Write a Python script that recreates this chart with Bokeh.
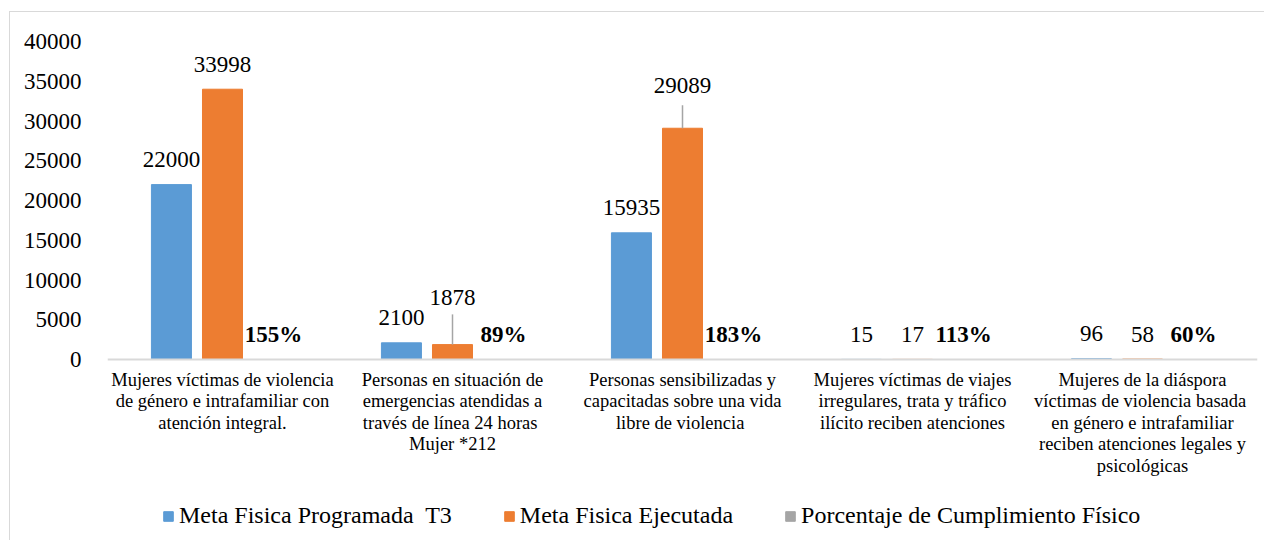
from bokeh.plotting import figure
from bokeh.models import ColumnDataSource, FactorRange, Range1d, Legend, LegendItem, Span
from bokeh.transform import dodge
from bokeh.core.properties import value
from bokeh.embed import file_html
from bokeh.resources import INLINE

categorias = [
    "Mujeres víctimas de violencia\nde género e intrafamiliar con\natención integral.",
    "Personas en situación de\nemergencias atendidas a\ntravés de línea  24 horas\nMujer *212",
    "Personas sensibilizadas y\ncapacitadas sobre una vida\nlibre de  violencia",
    "Mujeres víctimas de viajes\nirregulares, trata y tráfico\nilícito reciben atenciones",
    "Mujeres de la diáspora\nvíctimas de violencia  basada\nen género e intrafamiliar\nreciben atenciones legales y\npsicológicas",
]
programada = [22000, 2100, 15935, 15, 96]
ejecutada = [33998, 1878, 29089, 17, 58]
porcentaje = [1.55, 0.89, 1.83, 1.13, 0.60]
porcentaje_txt = ["155%", "89%", "183%", "113%", "60%"]
y_ticks = [0, 5000, 10000, 15000, 20000, 25000, 30000, 35000, 40000]

series_names = ["Meta Fisica Programada  T3", "Meta Fisica Ejecutada", "Porcentaje de Cumplimiento Físico"]
colors = ["#5B9BD5", "#ED7D31", "#A5A5A5"]
FONT = "Liberation Serif"

# label offsets (screen px) for executed-value labels; two are pulled up with leader lines
ejec_label_offset = [-25, -47, -43, -25, -25]
leader_idx = [1, 2]
leader_len = [3800, 2900]

src = ColumnDataSource(dict(
    cat=categorias,
    prog=programada,
    ejec=ejecutada,
    pct=porcentaje,
    base=[0] * len(categorias),
    prog_txt=[str(v) for v in programada],
    ejec_txt=[str(v) for v in ejecutada],
    pct_txt=porcentaje_txt,
    ejec_off=ejec_label_offset,
))

# the frame extends below zero to hold the category labels and the legend
p = figure(
    width=1255, height=529,
    x_range=FactorRange(*categorias, range_padding=0),
    y_range=Range1d(-22890, 40000),
    output_backend="svg", toolbar_location=None,
    min_border_left=97, min_border_right=8, min_border_top=29, min_border_bottom=0,
)
p.margin = (11, 0, 0, 9)
p.styles = {"border-top": "1px solid #D9D9D9", "border-left": "1px solid #D9D9D9"}
p.outline_line_color = None
p.background_fill_color = "white"
p.border_fill_color = "white"
p.xgrid.grid_line_color = None
p.ygrid.grid_line_color = None
p.xaxis.visible = False

p.add_layout(Span(location=0, dimension="width", line_color="#D9D9D9", line_width=2))

step = 0.222
bw = 0.174
r1 = p.vbar(x=dodge("cat", -step, range=p.x_range), top="prog", width=bw, source=src, color=colors[0])
r2 = p.vbar(x=dodge("cat", 0, range=p.x_range), top="ejec", width=bw, source=src, color=colors[1])
r3 = p.vbar(x=dodge("cat", step, range=p.x_range), top="pct", width=bw, source=src, color=colors[2])

# leader lines
lsrc = ColumnDataSource(dict(
    x=[categorias[i] for i in leader_idx],
    y0=[ejecutada[i] for i in leader_idx],
    y1=[ejecutada[i] + l for i, l in zip(leader_idx, leader_len)],
))
p.segment(x0="x", y0="y0", x1="x", y1="y1", source=lsrc, line_color="#A5A5A5", line_width=1.5)

common = dict(source=src, text_align="center", text_baseline="middle",
              text_font=value(FONT), text_font_size="23px", text_color="black")
p.text(x=dodge("cat", -step, range=p.x_range), y="prog", text="prog_txt", y_offset=-25, **common)
p.text(x=dodge("cat", 0, range=p.x_range), y="ejec", text="ejec_txt", y_offset="ejec_off", **common)
p.text(x=dodge("cat", step, range=p.x_range), y="pct", text="pct_txt", y_offset=-25,
       text_font_style="bold", **common)

# category labels
p.text(x="cat", y="base", text="cat", source=src, y_offset=10, text_align="center",
       text_baseline="top", text_font=value(FONT), text_font_size="18.5px",
       text_color="black", text_line_height=1.075)

# y axis
p.yaxis.ticker = y_ticks
p.yaxis.axis_line_color = None
p.yaxis.major_tick_line_color = None
p.yaxis.minor_tick_line_color = None
p.yaxis.major_label_text_font = FONT
p.yaxis.major_label_text_font_size = "23px"
p.yaxis.major_label_text_color = "black"
p.yaxis.major_label_standoff = 20

legend = Legend(items=[
    LegendItem(label=series_names[0], renderers=[r1]),
    LegendItem(label=series_names[1], renderers=[r2]),
    LegendItem(label=series_names[2], renderers=[r3]),
], orientation="horizontal", location=(55, 12))
legend.label_text_font = FONT
legend.label_text_font_size = "24px"
legend.label_text_color = "black"
legend.glyph_width = 12
legend.glyph_height = 12
legend.label_standoff = 5
legend.spacing = 51
legend.border_line_color = None
legend.background_fill_alpha = 0
legend.margin = 0
legend.padding = 0
p.add_layout(legend)

open("out.html", "w").write(file_html(p, INLINE))
